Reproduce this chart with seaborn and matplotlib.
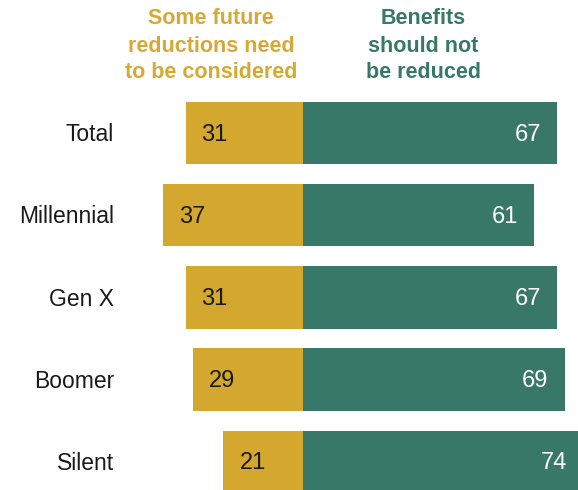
import matplotlib
matplotlib.use("Agg")
import matplotlib.pyplot as plt
import seaborn as sns
import pandas as pd
import numpy as np

categories = ["Total", "Millennial", "Gen X", "Boomer", "Silent"]
reduce_vals = [31, 37, 31, 29, 21]
keep_vals = [67, 61, 67, 69, 74]
header_left = ["Some future", "reductions need", "to be considered"]
header_right = ["Benefits", "should not", "be reduced"]

GOLD = "#D4A72F"
GOLD_TXT = "#D6A935"
TEAL = "#387868"

sns.set_theme(style="white")
plt.rcParams["font.family"] = ["Liberation Sans", "DejaVu Sans"]

fig = plt.figure(figsize=(5.78, 4.90), dpi=100)
ax = fig.add_axes([0, 0, 1, 1])

df = pd.DataFrame({"cat": categories,
                   "reduce": [-v for v in reduce_vals],
                   "keep": keep_vals})

sns.barplot(data=df, x="reduce", y="cat", color=GOLD, width=0.76,
            linewidth=0, saturation=1, ax=ax, orient="h")
sns.barplot(data=df, x="keep", y="cat", color=TEAL, width=0.76,
            linewidth=0, saturation=1, ax=ax, orient="h")

ppu = 3.79
ax.set_xlim(-303 / ppu, (578 - 303) / ppu)
ax.set_ylim(4.343, -1.618)
ax.axis("off")

for i, (c, r, k) in enumerate(zip(categories, reduce_vals, keep_vals)):
    ax.text(-(303 - 114) / ppu, i + 0.02, c, ha="right", va="center",
            fontsize=16.5, color="#1a1a1a")
    ax.text(-r + 16 / ppu, i + 0.02, str(r), ha="left", va="center",
            fontsize=17, color="#1a1a1a")
    ax.text(k - 16 / ppu, i + 0.02, str(k), ha="right", va="center",
            fontsize=17, color="white")

for j, line in enumerate(header_left):
    fig.text(211 / 578, 1 - (19 + 27 * j) / 490, line, ha="center",
             va="center", fontsize=15.5, fontweight="bold", color=GOLD_TXT)
for j, line in enumerate(header_right):
    fig.text(423 / 578, 1 - (19 + 27 * j) / 490, line, ha="center",
             va="center", fontsize=15.5, fontweight="bold", color=TEAL)

fig.savefig("out.png", dpi=100)
